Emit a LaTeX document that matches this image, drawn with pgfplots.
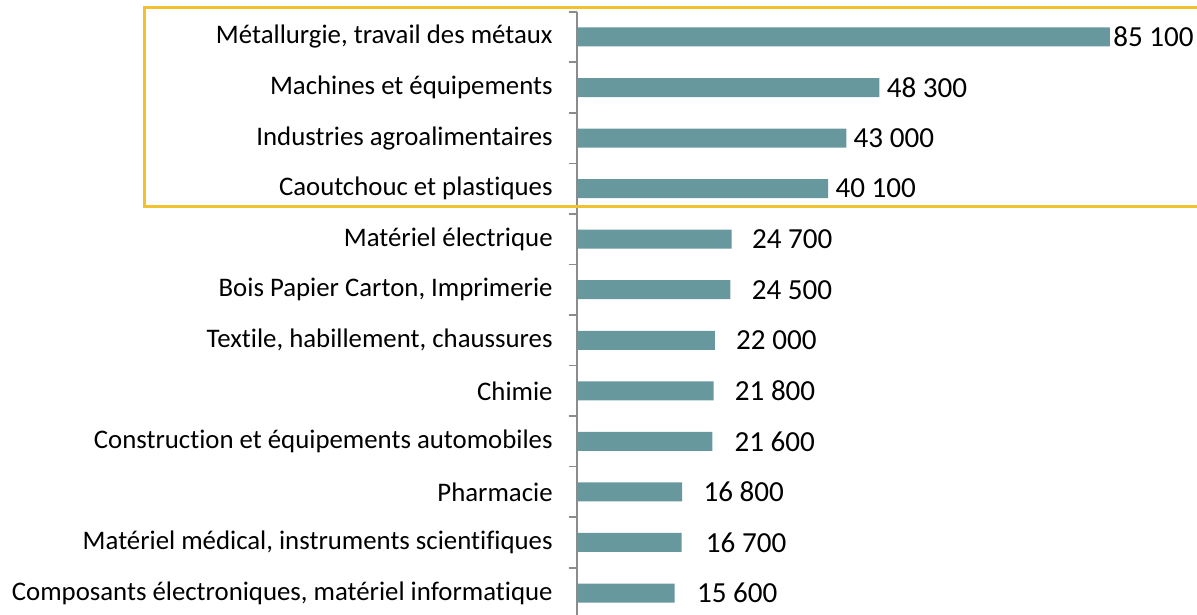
\documentclass[border=0pt]{standalone}
\usepackage{pgfplots}
\pgfplotsset{compat=1.18}
\usepackage{pgfplotstable}
\usepackage{fontspec}
\setmainfont{Carlito}[Ligatures=NoCommon]
\definecolor{barcol}{RGB}{103,152,158}
\definecolor{boxcol}{RGB}{242,193,46}
\definecolor{axcol}{RGB}{140,140,140}
\pgfplotstableread{
idx value shift
0 85100 1.5
1 48300 3.5
2 43000 3.5
3 40100 3.5
4 24700 10
5 24500 10.5
6 22000 10.5
7 21800 10.5
8 21600 11
9 16800 10.5
10 16700 12
11 15600 11
}\datatable
\begin{document}
\begin{tikzpicture}
\begin{scope}[overlay]
\begin{axis}[
  at={(0,0)}, anchor=south west,
  scale only axis, width=313.15bp, height=303.3bp,
  xbar, bar width=9.5bp, bar shift=0pt,
  xmin=0, xmax=100000, ymin=-0.5, ymax=11.5,
  y dir=reverse,
  axis x line=none, axis y line=left,
  axis line style={axcol, line width=1bp, -},
  ytick={0,...,11},
  yticklabels={{Métallurgie, travail des métaux},{Machines et équipements\ },{Industries agroalimentaires},{Caoutchouc et plastiques},{Matériel électrique},{Bois Papier Carton, Imprimerie},{Textile, habillement, chaussures},{Chimie},{Construction et équipements automobiles},{Pharmacie},{Matériel médical, instruments scientifiques},{Composants électroniques, matériel informatique}},
  minor ytick={-0.5,0.5,...,11.5},
  major tick length=0pt, minor tick length=4bp,
  tick align=outside,
  minor tick style={axcol, line width=0.8bp},
  yticklabel style={font=\fontsize{13.45}{15}\selectfont, anchor=east, xshift=-12bp, inner sep=0pt},
  clip=false,
  visualization depends on={\thisrow{shift} \as \lshift},
  nodes near coords,
  nodes near coords style={font=\fontsize{14.6}{16}\selectfont, anchor=west, inner sep=0pt, xshift=\lshift bp, black,
    /pgf/number format/fixed, /pgf/number format/1000 sep={\ }, /pgf/number format/assume math mode=true},
]
\addplot[fill=barcol, draw=none] table[x=value, y=idx] {\datatable};
\draw[boxcol, line width=1.5bp] (axis cs:-68977,-0.574) rectangle (axis cs:102000,3.363);
\end{axis}
\end{scope}
\useasboundingbox (-288.5bp,1.65bp) rectangle (310bp,309.15bp);
\end{tikzpicture}
\end{document}
